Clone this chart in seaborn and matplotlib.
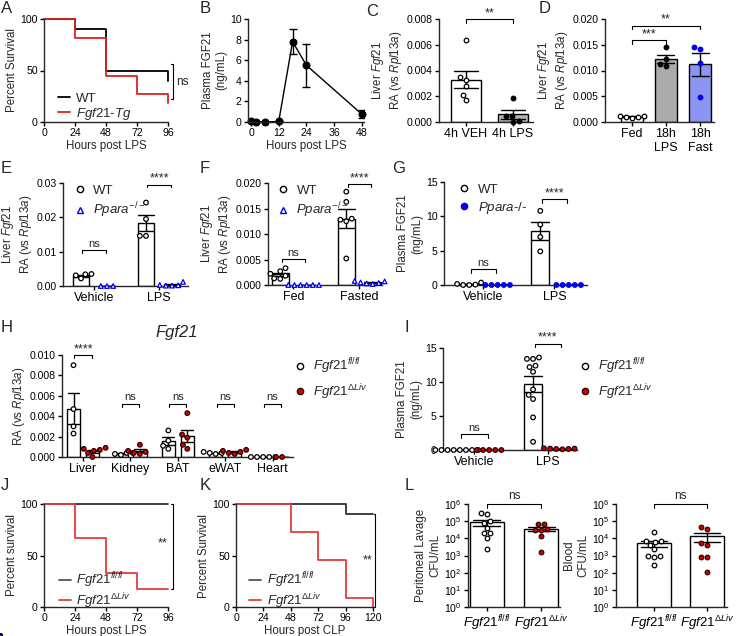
import numpy as np
import pandas as pd
import matplotlib
matplotlib.use('Agg')
import matplotlib.pyplot as plt
import seaborn as sns
from matplotlib.lines import Line2D
from matplotlib.ticker import FormatStrFormatter, NullLocator

# ---------------- data ----------------
# A: survival after LPS
a_wt_t = [0, 24, 48, 96, 96]
a_wt_s = [100, 90, 50, 50, 40]
a_tg_t = [0, 24, 48, 72, 96, 96]
a_tg_s = [100, 82, 45, 27, 27, 18]

# B: plasma FGF21 time course
b_t = [0, 2, 6, 12, 18, 24, 48]
b_mean = [0.12, 0.03, 0.0, 0.05, 7.8, 5.5, 0.75]
b_sem = [0.05, 0.0, 0.0, 0.05, 1.2, 2.1, 0.4]

# C: liver Fgf21 4h
c_groups = ['4h VEH', '4h LPS']
c_veh = [0.0064, 0.0035, 0.0033, 0.0028, 0.0021, 0.0017]
c_lps = [0.0019, 0.0005, 0.00045, 0.0001, 0.0]

# D: liver Fgf21 18h
d_groups = ['Fed', '18h\nLPS', '18h\nFast']
d_fed = [0.0007, 0.0010, 0.0012, 0.0011, 0.0010]
d_lps = [0.0145, 0.0123, 0.0112, 0.0108]
d_fast = [0.0142, 0.0145, 0.0114, 0.0048]

# E: Ppara KO, LPS
e_groups = ['Vehicle', 'LPS']
e_wt_veh = [0.0035, 0.0034, 0.0031, 0.0022]
e_ko_veh = [0.0, 0.0, 0.0]
e_wt_lps = [0.0243, 0.0195, 0.0146, 0.0146]
e_ko_lps = [0.0012, 0.0003, 0.0002, 0.0001, 0.0001]

# F: Ppara KO, fasting
f_groups = ['Fed', 'Fasted']
f_wt_fed = [0.0033, 0.0027, 0.0022, 0.0018, 0.0013, 0.0012]
f_ko_fed = [0.0, 0.0, 0.0, 0.0, 0.0, 0.0]
f_wt_fast = [0.0183, 0.0163, 0.0130, 0.0128, 0.0125, 0.0052]
f_ko_fast = [0.0008, 0.0007, 0.0005, 0.0004, 0.0003, 0.0002]

# G: plasma FGF21, Ppara KO
g_groups = ['Vehicle', 'LPS']
g_wt_veh = [0.35, 0.15, 0.05, 0.0, 0.0]
g_ko_veh = [0.0, 0.0, 0.0, 0.0, 0.0]
g_wt_lps = [10.8, 8.8, 7.0, 4.9]
g_ko_lps = [0.0, 0.0, 0.0, 0.0, 0.0]

# H: Fgf21 by tissue
h_tissues = ['Liver', 'Kidney', 'BAT', 'eWAT', 'Heart']
h_fl = [[0.0090, 0.0047, 0.0030, 0.0023],
        [0.0004, 0.0004, 0.0003, 0.0002],
        [0.0026, 0.0016, 0.0011, 0.0008],
        [0.0005, 0.0004, 0.0004, 0.0003],
        [0.0, 0.0, 0.0, 0.0, 0.0]]
h_ko = [[0.0009, 0.0008, 0.0007, 0.0006, 0.0004, 0.0],
        [0.0012, 0.0006, 0.0005, 0.0004, 0.0003],
        [0.0043, 0.0022, 0.0019, 0.0012, 0.0008],
        [0.0007, 0.0006, 0.0005, 0.0004, 0.0003],
        [0.0, 0.0]]

# I: plasma FGF21, liver KO
i_groups = ['Vehicle', 'LPS']
i_fl_veh = [0.0, 0.0, 0.0, 0.0, 0.0, 0.0, 0.0, 0.0]
i_ko_veh = [0.0, 0.0, 0.0, 0.0, 0.0]
i_fl_lps = [13.4, 13.4, 13.6, 12.4, 12.2, 11.5, 8.9, 8.1, 7.5, 4.8, 1.2]
i_ko_lps = [0.25, 0.2, 0.2, 0.15, 0.15, 0.1]

# J, K: survival
j_fl_t = [0, 96]
j_fl_s = [100, 100]
j_ko_t = [0, 24, 48, 72, 96]
j_ko_s = [100, 67, 33, 17, 17]
k_fl_t = [0, 96, 120]
k_fl_s = [100, 90, 90]
k_ko_t = [0, 48, 72, 96, 120, 120]
k_ko_s = [100, 72.7, 45.5, 9.1, 9.1, 0]

# L: bacterial load
FL = r'$\mathit{Fgf21}^{\mathit{fl/fl}}$'
KO = r'$\mathit{Fgf21}^{\Delta\mathit{Liv}}$'
l_groups = [FL, KO]
l_lav_fl = [2.8e5, 2.5e5, 1.0e5, 8.0e4, 4.0e4, 2.0e4, 2.0e4, 1.0e4, 2.5e3]
l_lav_ko = [7.0e4, 6.5e4, 3.2e4, 3.2e4, 3.5e4, 1.3e4, 1.6e3]
l_bld_fl = [2.2e4, 7.4e3, 7.0e3, 6.5e3, 4.0e3, 2.3e3, 1.0e3, 9.0e2, 8.5e2, 2.9e2]
l_bld_ko = [4.8e4, 3.5e4, 5.6e3, 4.2e3, 8.7e2, 8.7e2, 1.1e2]

# ---------------- style ----------------
sns.set_style('ticks')
plt.rcParams['font.family'] = ['Liberation Sans', 'DejaVu Sans']
plt.rcParams['mathtext.fontset'] = 'custom'
plt.rcParams['mathtext.rm'] = 'Liberation Sans'
plt.rcParams['mathtext.it'] = 'Liberation Sans:italic'
plt.rcParams['mathtext.bf'] = 'Liberation Sans:bold'
plt.rcParams['axes.linewidth'] = 1.0

RED = '#d40000'
BLUE = '#0000ee'
TICK = 7.6
CAT = 9
LAB = 8.3
LEG = 9.5
STAR = 9
PT = 3.3

W, H = 740, 636
fig = plt.figure(figsize=(7.4, 6.36), dpi=100)


def px_axes(x0, y0, x1, y1):
    return fig.add_axes([x0 / W, 1 - y1 / H, (x1 - x0) / W, (y1 - y0) / H])


def style(ax):
    sns.despine(ax=ax)
    ax.tick_params(direction='out', length=3, width=1, labelsize=TICK, pad=1.5, colors='k')
    ax.set_xlabel('')
    ax.set_ylabel('')


def bracket(ax, x1, x2, y, h, txt, dy=0.0):
    ax.plot([x1, x1, x2, x2], [y - h, y, y, y - h], color='k', lw=0.8, clip_on=False)
    fs = STAR if '*' in txt else 8
    ax.text((x1 + x2) / 2, y + dy, txt, ha='center', va='bottom', fontsize=fs)


def vbracket(ax, x, y1, y2, w, txt, tx, ty, ha='left'):
    ax.plot([x - w, x, x, x - w], [y1, y1, y2, y2], color='k', lw=0.8, clip_on=False)
    fs = STAR if '*' in txt else 8.5
    ax.text(tx, ty, txt, ha=ha, va='center', fontsize=fs)


def long(groups, hues, vals):
    rows = []
    for gi, g in enumerate(groups):
        for hi, h in enumerate(hues):
            for v in vals[hi][gi]:
                rows.append((g, h, v))
    return pd.DataFrame(rows, columns=['g', 'h', 'v'])


def grouped(ax, df, order, hues, pts, gap=0.375):
    sns.barplot(data=df, x='g', y='v', hue='h', order=order, hue_order=hues,
                palette={h: 'white' for h in hues}, errorbar='se', capsize=0.5,
                err_kws={'color': 'k', 'linewidth': 1}, edgecolor='k', linewidth=1,
                gap=gap, legend=False, ax=ax)
    for h, (marker, fc, ec) in pts.items():
        sns.swarmplot(data=df[df.h == h], x='g', y='v', hue='h', order=order,
                      hue_order=hues, dodge=True, palette={k: fc for k in hues},
                      marker=marker, edgecolor=ec, linewidth=0.9, size=PT,
                      legend=False, clip_on=False, zorder=3, ax=ax)


def simple(ax, df, order, colors, pts, width):
    sns.barplot(data=df, x='g', y='v', hue='g', order=order, hue_order=order,
                palette=colors, errorbar='se', capsize=0.5,
                err_kws={'color': 'k', 'linewidth': 1}, edgecolor='k', linewidth=1,
                width=width, legend=False, ax=ax)
    for g, (fc, ec) in pts.items():
        sns.swarmplot(data=df[df.g == g], x='g', y='v', order=order, color=fc,
                      edgecolor=ec, linewidth=0.9, size=PT, clip_on=False, zorder=3, ax=ax)


def survival(ax, curves, xmax, xticks):
    for t, s, col in curves:
        sns.lineplot(x=t, y=s, estimator=None, sort=False, drawstyle='steps-post',
                     color=col, lw=1.3, clip_on=False, ax=ax)
    style(ax)
    ax.set_xlim(0, xmax)
    ax.set_ylim(0, 100)
    ax.set_xticks(xticks)
    ax.set_yticks([0, 50, 100])


def letter(x, y, s):
    fig.text(x / W, 1 - y / H, s, fontsize=12, ha='left', va='top')


def rel_label(ax):
    ax.set_ylabel('Liver $\\mathit{Fgf21}$\nRA (vs $\\mathit{Rpl13a}$)', fontsize=LAB, labelpad=2)


def marker_legend(ax_or_fig, handles, labels, **kw):
    return ax_or_fig.legend(handles, labels, frameon=False, fontsize=LEG, handlelength=0.8,
                            handletextpad=0.6, borderpad=0, **kw)


def line_legend(ax, labels, colors, anchor):
    ax.legend([Line2D([], [], color=c, lw=1.3) for c in colors], labels, loc='lower left',
              bbox_to_anchor=anchor, frameon=False, fontsize=LEG, handlelength=0.9,
              handletextpad=0.45, labelspacing=0.05, borderpad=0)


# ---------------- A ----------------
ax = px_axes(44, 19, 168, 122)
survival(ax, [(a_wt_t, a_wt_s, 'k'), (a_tg_t, a_tg_s, '#e02020')], 96, [0, 24, 48, 72, 96])
ax.set_xlabel('Hours post LPS', fontsize=LAB, labelpad=1)
ax.set_ylabel('Percent Survival', fontsize=LAB, labelpad=2)
vbracket(ax, 99.5, 56, 22, 1.5, 'ns', 102, 39)
line_legend(ax, ['WT', r'$\mathit{Fgf21}$-$\mathit{Tg}$'], ['k', '#e02020'], (0.06, -0.06))

# ---------------- B ----------------
ax = px_axes(248, 19, 364, 122)
sns.lineplot(x=b_t, y=b_mean, estimator=None, sort=False, color='k', lw=1,
             marker='o', markersize=5, markeredgecolor='k', clip_on=False, ax=ax)
ax.errorbar(b_t, b_mean, yerr=b_sem, fmt='none', ecolor='k', elinewidth=1, capsize=3)
style(ax)
ax.set_xlim(-1.3, 48.9)
ax.set_ylim(0, 10)
ax.set_xticks([0, 12, 24, 36, 48])
ax.set_yticks([0, 2, 4, 6, 8, 10])
ax.set_xlabel('Hours post LPS', fontsize=LAB, labelpad=1)
ax.set_ylabel('Plasma FGF21\n(ng/mL)', fontsize=LAB, labelpad=2)

# ---------------- C ----------------
ax = px_axes(439, 19, 533, 122)
df = long(c_groups, ['x'], [[c_veh, c_lps]])
simple(ax, df, c_groups, {c_groups[0]: 'white', c_groups[1]: '#b4b4b4'},
       {c_groups[0]: ('white', 'k'), c_groups[1]: ('k', 'k')}, 0.64)
style(ax)
ax.set_xlim(-0.574, 1.426)
ax.set_ylim(0, 0.008)
ax.set_yticks([0, 0.002, 0.004, 0.006, 0.008])
ax.yaxis.set_major_formatter(FormatStrFormatter('%.3f'))
ax.set_xticks([0, 1])
ax.set_xticklabels(c_groups, fontsize=CAT)
rel_label(ax)
bracket(ax, 0, 1, 0.0080, 0.0003, '**', 0.0)

# ---------------- D ----------------
ax = px_axes(605, 19, 714, 122)
df = long(d_groups, ['x'], [[d_fed, d_lps, d_fast]])
simple(ax, df, d_groups, {d_groups[0]: 'white', d_groups[1]: '#ababab', d_groups[2]: '#7b88ff'},
       {d_groups[0]: ('white', 'k'), d_groups[1]: ('k', 'k'), d_groups[2]: (BLUE, BLUE)}, 0.65)
style(ax)
ax.set_xlim(-0.79, 2.41)
ax.set_ylim(0, 0.020)
ax.set_yticks([0, 0.005, 0.010, 0.015, 0.020])
ax.yaxis.set_major_formatter(FormatStrFormatter('%.3f'))
ax.set_xticks([0, 1, 2])
ax.set_xticklabels(d_groups, fontsize=CAT)
rel_label(ax)
bracket(ax, 0, 1, 0.0159, 0.0007, '***', 0.0)
bracket(ax, 0, 2, 0.0187, 0.0007, '**', 0.0)

# ---------------- E ----------------
ax = px_axes(63, 183, 188, 286)
hues = ['WT', 'KO']
df = long(e_groups, hues, [[e_wt_veh, e_wt_lps], [e_ko_veh, e_ko_lps]])
grouped(ax, df, e_groups, hues, {'WT': ('o', 'white', 'k'), 'KO': ('^', 'white', BLUE)})
style(ax)
ax.set_xlim(-0.477, 1.446)
ax.set_ylim(0, 0.03)
ax.set_yticks([0, 0.01, 0.02, 0.03])
ax.yaxis.set_major_formatter(FormatStrFormatter('%.2f'))
ax.set_xticks([0, 1])
ax.set_xticklabels(e_groups, fontsize=CAT)
rel_label(ax)
bracket(ax, -0.18, 0.18, 0.0105, 0.0008, 'ns', 0.0003)
bracket(ax, 0.82, 1.18, 0.0295, 0.0008, '****', 0.0)
marker_legend(ax, [Line2D([], [], ls='', marker='o', mfc='white', mec='k', ms=4.5),
                   Line2D([], [], ls='', marker='^', mfc='white', mec=BLUE, ms=4.5)],
              ['WT', r'$\mathit{Ppara}^{-/-}$'], loc='upper left',
              bbox_to_anchor=(0.04, 1.05), labelspacing=0.3)

# ---------------- F ----------------
ax = px_axes(268, 183, 382, 285)
df = long(f_groups, hues, [[f_wt_fed, f_wt_fast], [f_ko_fed, f_ko_fast]])
grouped(ax, df, f_groups, hues, {'WT': ('o', 'white', 'k'), 'KO': ('^', 'white', BLUE)})
style(ax)
ax.set_xlim(-0.386, 1.341)
ax.set_ylim(0, 0.020)
ax.set_yticks([0, 0.005, 0.010, 0.015, 0.020])
ax.yaxis.set_major_formatter(FormatStrFormatter('%.3f'))
ax.set_xticks([0, 1])
ax.set_xticklabels(f_groups, fontsize=CAT)
rel_label(ax)
bracket(ax, -0.18, 0.18, 0.0051, 0.0005, 'ns', 0.0002)
bracket(ax, 0.82, 1.18, 0.0198, 0.0005, '****', 0.0)
marker_legend(ax, [Line2D([], [], ls='', marker='o', mfc='white', mec='k', ms=4.5),
                   Line2D([], [], ls='', marker='^', mfc='white', mec=BLUE, ms=4.5)],
              ['WT', r'$\mathit{Ppara}^{-/-}$'], loc='upper left',
              bbox_to_anchor=(0.03, 1.05), labelspacing=0.3)

# ---------------- G ----------------
ax = px_axes(444, 182, 587, 285)
df = long(g_groups, hues, [[g_wt_veh, g_wt_lps], [g_ko_veh, g_ko_lps]])
grouped(ax, df, g_groups, hues, {'WT': ('o', 'white', 'k'), 'KO': ('o', BLUE, BLUE)})
style(ax)
ax.set_xlim(-0.556, 1.458)
ax.set_ylim(0, 15)
ax.set_yticks([0, 5, 10, 15])
ax.set_xticks([0, 1])
ax.set_xticklabels(g_groups, fontsize=CAT)
ax.set_ylabel('Plasma FGF21\n(ng/mL)', fontsize=LAB, labelpad=2)
bracket(ax, -0.18, 0.18, 2.3, 0.5, 'ns', 0.2)
bracket(ax, 0.82, 1.18, 12.5, 0.5, '****', 0.0)
marker_legend(ax, [Line2D([], [], ls='', marker='o', mfc='white', mec='k', ms=4.5),
                   Line2D([], [], ls='', marker='o', mfc=BLUE, mec=BLUE, ms=4.5)],
              ['WT', r'$\mathit{Ppara}$-/-'], loc='upper left',
              bbox_to_anchor=(0.06, 1.05), labelspacing=0.3)

# ---------------- H ----------------
ax = px_axes(62, 355, 293, 457)
hues_l = ['fl', 'ko']
df = long(h_tissues, hues_l, [h_fl, h_ko])
grouped(ax, df, h_tissues, hues_l, {'fl': ('o', 'white', 'k'), 'ko': ('o', RED, '#300000')}, gap=0.3)
style(ax)
ax.set_xlim(-0.443, 4.43)
ax.set_ylim(0, 0.010)
ax.set_yticks([0, 0.002, 0.004, 0.006, 0.008, 0.010])
ax.yaxis.set_major_formatter(FormatStrFormatter('%.3f'))
ax.set_xticks(range(5))
ax.set_xticklabels(h_tissues, fontsize=CAT)
ax.set_ylabel('RA (vs $\\mathit{Rpl13a}$)', fontsize=LAB, labelpad=2)
bracket(ax, -0.18, 0.18, 0.0100, 0.0003, '****', 0.0)
for k in range(1, 5):
    bracket(ax, k - 0.18, k + 0.18, 0.0052, 0.0003, 'ns', 0.0002)
fig.text(177 / W, 1 - 332 / H, 'Fgf21', fontsize=12, style='italic', ha='center', va='center')
marker_legend(fig, [Line2D([], [], ls='', marker='o', mfc='white', mec='k', ms=4.5),
                    Line2D([], [], ls='', marker='o', mfc=RED, mec='#300000', ms=4.5)],
              [FL, KO], loc='upper left', bbox_to_anchor=(288 / W, 1 - 350 / H),
              labelspacing=0.45)

# ---------------- I ----------------
ax = px_axes(443, 348, 577, 450)
df = long(i_groups, hues_l, [[i_fl_veh, i_fl_lps], [i_ko_veh, i_ko_lps]])
grouped(ax, df, i_groups, hues_l, {'fl': ('o', 'white', 'k'), 'ko': ('o', RED, '#300000')})
style(ax)
ax.set_xlim(-0.43, 1.40)
ax.set_ylim(0, 15)
ax.set_yticks([0, 5, 10, 15])
ax.set_xticks([0, 1])
ax.set_xticklabels(i_groups, fontsize=CAT)
ax.set_ylabel('Plasma FGF21\n(ng/mL)', fontsize=LAB, labelpad=2)
bracket(ax, -0.18, 0.18, 2.3, 0.5, 'ns', 0.2)
bracket(ax, 0.82, 1.18, 15.6, 0.5, '****', 0.0)
marker_legend(fig, [Line2D([], [], ls='', marker='o', mfc='white', mec='k', ms=4.5),
                    Line2D([], [], ls='', marker='o', mfc=RED, mec='#300000', ms=4.5)],
              [FL, KO], loc='upper left', bbox_to_anchor=(573 / W, 1 - 350 / H),
              labelspacing=0.45)

# ---------------- J ----------------
ax = px_axes(44, 504, 168, 607)
survival(ax, [(j_fl_t, j_fl_s, '#333333'), (j_ko_t, j_ko_s, '#e83a3a')], 96, [0, 24, 48, 72, 96])
ax.set_xlabel('Hours post LPS', fontsize=LAB, labelpad=1)
ax.set_ylabel('Percent survival', fontsize=LAB, labelpad=2)
vbracket(ax, 99.5, 100, 17, 1.5, '**', 92, 62, ha='center')
line_legend(ax, [FL, KO], ['#555555', '#e83a3a'], (0.065, -0.1))

# ---------------- K ----------------
ax = px_axes(236, 504, 373, 607)
survival(ax, [(k_fl_t, k_fl_s, '#333333'), (k_ko_t, k_ko_s, '#e83a3a')], 120,
         [0, 24, 48, 72, 96, 120])
ax.set_xlabel('Hours post CLP', fontsize=LAB, labelpad=1)
ax.set_ylabel('Percent Survival', fontsize=LAB, labelpad=2)
vbracket(ax, 122, 90, 0, 1.5, '**', 115.5, 45, ha='center')
line_legend(ax, [FL, KO], ['#555555', '#e83a3a'], (0.05, -0.1))

# ---------------- L ----------------
for (x0, x1, xl, fl, ko, lab) in [(468, 560, (-0.35, 1.35), l_lav_fl, l_lav_ko, 'Peritoneal Lavage\nCFU/mL'),
                                  (616, 727, (-0.72, 1.38), l_bld_fl, l_bld_ko, 'Blood\nCFU/mL')]:
    ax = px_axes(x0, 504, x1, 607)
    df = long(l_groups, ['x'], [[fl, ko]])
    sns.barplot(data=df, x='g', y='v', hue='g', order=l_groups, hue_order=l_groups,
                palette={g: 'white' for g in l_groups}, errorbar='se', capsize=0.5,
                err_kws={'color': 'k', 'linewidth': 1}, edgecolor='k', linewidth=1,
                width=0.63, legend=False, ax=ax)
    ax.set_yscale('log')
    ax.set_ylim(1, 1e6)
    ax.set_xlim(*xl)
    sns.swarmplot(data=df[df.g == FL], x='g', y='v', order=l_groups, color='white',
                  edgecolor='k', linewidth=0.9, size=PT, zorder=3, ax=ax)
    sns.swarmplot(data=df[df.g == KO], x='g', y='v', order=l_groups, color=RED,
                  edgecolor='#300000', linewidth=0.9, size=PT, zorder=3, ax=ax)
    style(ax)
    ax.set_ylim(1, 1e6)
    ax.set_xlim(*xl)
    ax.set_yticks([1, 10, 100, 1e3, 1e4, 1e5, 1e6])
    ax.yaxis.set_minor_locator(NullLocator())
    ax.set_xticks([0, 1])
    ax.set_xticklabels(l_groups, fontsize=9.5)
    ax.set_ylabel(lab, fontsize=LAB, labelpad=2)
    ax.plot([0, 0, 1, 1], [6e5, 1e6, 1e6, 6e5], color='k', lw=0.8, clip_on=False)
    ax.text(0.5, 1.3e6, 'ns', ha='center', va='bottom', fontsize=8.5)

# ---------------- panel letters ----------------
for s, x, y in [('A', 1, 1), ('B', 200, 1), ('C', 366, 4), ('D', 539, 1),
                ('E', 1, 161), ('F', 200, 161), ('G', 392, 161),
                ('H', 1, 320), ('I', 404, 320),
                ('J', 1, 478), ('K', 200, 478), ('L', 405, 478)]:
    letter(x, y, s)

fig.savefig('out.png', dpi=100)
